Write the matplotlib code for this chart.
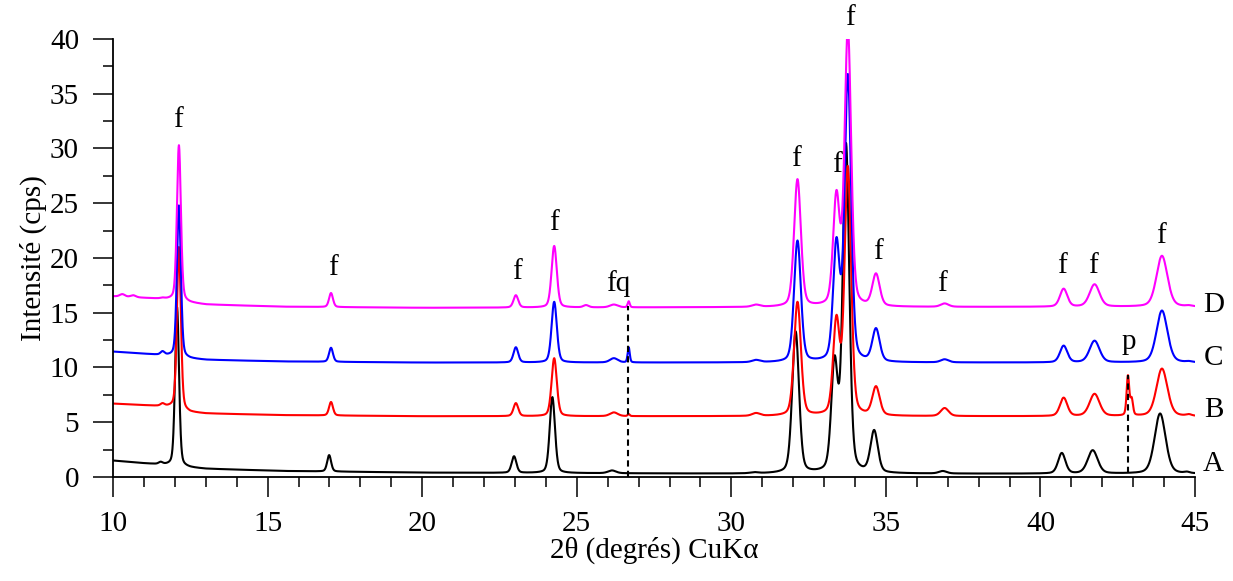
import numpy as np
import matplotlib.pyplot as plt

plt.rcParams['font.family'] = ['Liberation Serif', 'DejaVu Serif']
plt.rcParams['font.size'] = 21

# baseline (2theta, intensity) for each pattern
base_x = [10, 11, 11.9, 12.5, 13, 15.5, 20, 30, 45]
base_A = [1.5, 1.25, 1.05, 0.85, 0.75, 0.55, 0.4, 0.3, 0.3]
base_B = [6.7, 6.55, 6.4, 5.9, 5.8, 5.65, 5.55, 5.55, 5.55]
base_C = [11.45, 11.25, 11.05, 10.8, 10.7, 10.55, 10.45, 10.45, 10.45]
base_D = [16.5, 16.35, 16.2, 15.9, 15.75, 15.55, 15.45, 15.5, 15.55]

# reflections: position, width, and the top of each peak per pattern (0 = absent)
peak_pos = [10.3, 10.65, 11.6, 12.13, 17.05, 23.03, 24.27, 25.3, 26.2, 26.68, 30.8,
            32.14, 33.4, 33.77, 34.68, 36.9, 40.75, 41.75, 42.83, 42.95, 43.93, 44.8]
peak_fwhm = [0.2, 0.2, 0.15, 0.15, 0.15, 0.18, 0.2, 0.2, 0.3, 0.08, 0.3,
             0.26, 0.25, 0.25, 0.28, 0.3, 0.28, 0.38, 0.1, 0.1, 0.42, 0.2]
top_A = [0, 0, 1.4, 15.5, 2.0, 1.9, 7.3, 0, 0.6, 0, 0.45,
         13.3, 11.1, 30.5, 4.3, 0.55, 2.2, 2.45, 0, 0, 5.8, 0.5]
top_B = [0, 0, 6.75, 21.0, 6.85, 6.75, 10.85, 0, 5.9, 5.75, 5.85,
         16.0, 14.8, 28.4, 8.3, 6.3, 7.25, 7.6, 9.3, 7.3, 9.9, 5.75]
top_C = [0, 0, 11.5, 24.8, 11.8, 11.85, 16.0, 0, 10.85, 11.85, 10.7,
         21.6, 21.9, 36.8, 13.6, 10.75, 12.0, 12.45, 0, 0, 15.2, 10.6]
top_D = [16.7, 16.6, 16.4, 30.3, 16.8, 16.6, 21.1, 15.7, 15.75, 16.05, 15.75,
         27.2, 26.2, 41.0, 18.6, 15.85, 17.2, 17.6, 0, 0, 20.2, 15.7]

series = {'A': (base_A, top_A, 'black', -0.06),
          'B': (base_B, top_B, 'red', 0.0),
          'C': (base_C, top_C, 'blue', 0.0),
          'D': (base_D, top_D, 'magenta', 0.0)}

label_pos = {'A': 1.2, 'B': 6.1, 'C': 10.9, 'D': 15.7}

# phase labels (text, 2theta, height)
marks = [('f', 12.1, 32.6), ('f', 17.1, 19.1), ('f', 23.05, 18.7), ('f', 24.25, 23.2),
         ('f', 32.1, 29.0), ('f', 33.4, 28.5), ('f', 33.85, 41.9), ('f', 34.75, 20.5),
         ('f', 36.8, 17.6), ('f', 40.7, 19.3), ('f', 41.7, 19.3), ('f', 43.9, 22.0),
         ('fq', 26.35, 17.7), ('p', 42.85, 12.3)]

dashes = [(26.66, 0.0, 15.6), (42.82, 0.35, 9.3)]


def pvoigt(x, x0, w, eta=0.3):
    s = w / 2.3548
    g = np.exp(-(x - x0) ** 2 / (2 * s * s))
    l = 1 / (1 + ((x - x0) / (w / 2)) ** 2)
    return (1 - eta) * g + eta * l


tt = np.linspace(10, 45, 7001)
pos = np.array(peak_pos)
fw = np.array(peak_fwhm)

fig = plt.figure(figsize=(12.33, 5.81), dpi=100)
ax = fig.add_axes([0.0917, 0.179, 0.8775, 0.754])

for name, (base, tops, col, shift) in series.items():
    tops = np.array(tops)
    use = tops > 0
    p = pos[use] + shift
    w = fw[use]
    rhs = tops[use] - np.interp(p, base_x, base)
    M = pvoigt(p[:, None], p[None, :], w[None, :])
    amp = np.clip(np.linalg.solve(M, rhs), 0, None)
    y = np.interp(tt, base_x, base)
    for a, x0, ww in zip(amp, p, w):
        y = y + a * pvoigt(tt, x0, ww)
    ax.plot(tt, y, color=col, lw=1.5)
    ax.text(45.6, label_pos[name], name, ha='center', va='center', clip_on=False)

for x0, y0, y1 in dashes:
    ax.plot([x0, x0], [y0, y1], color='black', lw=1.5, ls=(0, (3, 2)))

for t, x0, y0 in marks:
    ax.text(x0, y0, t, ha='center', va='center', clip_on=False)

ax.set_xlim(10, 45)
ax.set_ylim(0, 40)
ax.set_xticks(np.arange(10, 46, 5))
ax.set_xticks(np.arange(10, 46, 1), minor=True)
ax.set_yticks(np.arange(0, 41, 5))
ax.set_yticks(np.arange(0, 41, 2.5), minor=True)
ax.spines['top'].set_visible(False)
ax.spines['right'].set_visible(False)
for s in ['left', 'bottom']:
    ax.spines[s].set_linewidth(1.3)
ax.tick_params(which='major', direction='out', length=14.5, width=1.1, pad=10)
ax.tick_params(which='minor', direction='out', length=7.5, width=1.1)
ax.set_xlabel('2θ (degrés) CuKα', labelpad=0)
ax.set_ylabel('Intensité (cps)', labelpad=2)

fig.savefig('out.png', dpi=100)
